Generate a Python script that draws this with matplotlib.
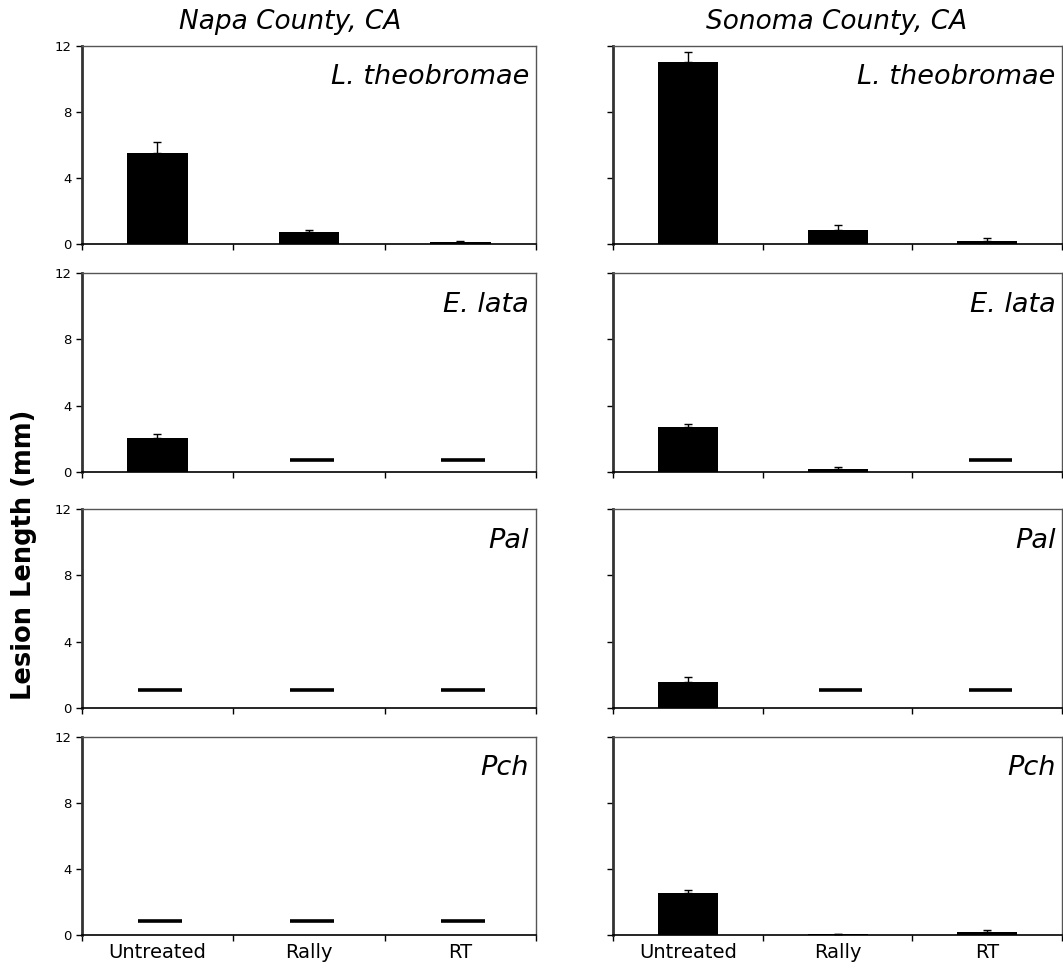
import numpy as np
import matplotlib.pyplot as plt

# Lesion length by treatment, two counties x four pathogens
treatments = ['Untreated', 'Rally', 'RT']
counties = ['Napa County, CA', 'Sonoma County, CA']
pathogens = ['L. theobromae', 'E. lata', 'Pal', 'Pch']

# means (mm); None = no lesion recorded (drawn as a dash)
napa_means = [
    [5.52, 0.71, 0.10],
    [2.02, None, None],
    [None, None, None],
    [None, None, None],
]
napa_err = [
    [0.67, 0.12, 0.08],
    [0.26, 0.0, 0.0],
    [0.0, 0.0, 0.0],
    [0.0, 0.0, 0.0],
]
sonoma_means = [
    [11.01, 0.85, 0.18],
    [2.68, 0.18, None],
    [1.54, None, None],
    [2.52, 0.06, 0.16],
]
sonoma_err = [
    [0.59, 0.30, 0.20],
    [0.19, 0.09, 0.0],
    [0.30, 0.0, 0.0],
    [0.18, 0.03, 0.14],
]
# height of the dash used for treatments without lesions, per pathogen row
dash_level = [0.7, 0.7, 1.07, 0.87]

means = [napa_means, sonoma_means]
errs = [napa_err, sonoma_err]

W, H = 1063, 968
fig = plt.figure(figsize=(W / 100, H / 100), dpi=100)

col_x = [(81.7, 536), (613.3, 1062)]
row_y = [(45.7, 244), (273.3, 471.7), (509.3, 707.7), (736.7, 935)]
title_x = [290, 837]

x = np.arange(len(treatments))
for c in range(2):
    for r in range(4):
        x0, x1 = col_x[c]
        y0, y1 = row_y[r]
        ax = fig.add_axes([x0 / W, 1 - y1 / H, (x1 - x0) / W, (y1 - y0) / H])
        m = means[c][r]
        e = errs[c][r]
        for i in range(len(treatments)):
            if m[i] is None:
                ax.hlines(dash_level[r], i - 0.125, i + 0.165, color='black', lw=2.6)
            else:
                ax.bar(i, m[i], width=0.4, color='black', zorder=2)
                if e[i] > 0:
                    ax.errorbar(i, m[i], yerr=[[0], [e[i]]], fmt='none', ecolor='black',
                                elinewidth=1, capsize=3, capthick=1, zorder=3)
        ax.set_xlim(-0.5, 2.5)
        ax.set_ylim(0, 12)
        ax.set_yticks([0, 4, 8, 12])
        ax.set_xticks([-0.5, 0.5, 1.5, 2.5])
        ax.set_xticklabels([])
        ax.tick_params(axis='both', direction='out', length=4, width=1, colors='black')
        if c == 0:
            ax.set_yticklabels(['0', '4', '8', '12'], fontsize=9.5)
        else:
            ax.set_yticklabels([])
        if r == 3:
            ax.set_xticks(x, minor=True)
            ax.set_xticklabels(treatments, minor=True, fontsize=14)
            ax.tick_params(axis='x', which='minor', length=0, pad=6)
        ax.spines['left'].set_linewidth(2)
        ax.spines['left'].set_color('#333333')
        ax.spines['bottom'].set_linewidth(1.2)
        ax.spines['top'].set_linewidth(1)
        ax.spines['top'].set_color('#555555')
        ax.spines['right'].set_linewidth(1)
        ax.spines['right'].set_color('#555555')
        ax.text(0.985, 0.84, pathogens[r], transform=ax.transAxes, ha='right', va='center',
                fontsize=19.5, style='italic')
    fig.text(title_x[c] / W, 1 - 22 / H, counties[c], ha='center', va='center',
             fontsize=19, style='italic')

fig.text(24 / W, 1 - 555 / H, 'Lesion Length (mm)', rotation=90, ha='center', va='center',
         fontsize=18.5, fontweight='bold')

fig.savefig('out.png', dpi=100)
